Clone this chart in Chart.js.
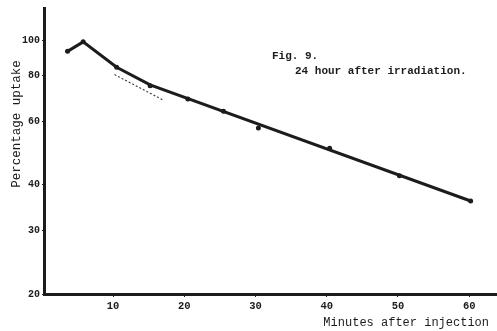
<!DOCTYPE html>
<html>
<head>
<meta charset="utf-8">
<script src="https://cdn.jsdelivr.net/npm/chart.js@4/dist/chart.umd.min.js"></script>
<style>
  html, body { margin: 0; padding: 0; background: #fff; }
  #wrap { width: 497px; height: 331px; }
</style>
</head>
<body>
<div id="wrap"><canvas id="uptake-chart" width="497" height="331"></canvas></div>
<script>
// minutes after injection / percentage uptake
const minutes = [3.6, 5.8, 10.5, 15.2, 20.5, 25.5, 30.4, 40.4, 50.2, 60.2];
const uptake = [93.4, 99.2, 84.4, 75.1, 69.0, 63.8, 57.4, 50.5, 42.4, 36.1];

// drawn curve: early points joined, then the straight fitted line
const curveMinutes = [3.6, 5.8, 10.5, 15.2, 60.2];
const curveUptake = [93.4, 99.2, 84.4, 75.5, 36.1];

// dotted extrapolation of the early slope
const dottedMinutes = [10.2, 17.0];
const dottedUptake = [80.6, 68.6];

const xTicks = [10, 20, 30, 40, 50, 60];
const yTicks = [20, 30, 40, 60, 80, 100];

const ink = '#1c1c1c';
const mono = "'Liberation Mono', 'DejaVu Sans Mono', monospace";

const toXY = (xs, ys) => xs.map((x, i) => ({ x: x, y: ys[i] }));

// typed captions of the figure and both axis labels
const figText = {
    id: 'figText',
    afterDraw(chart) {
        const ctx = chart.ctx;
        ctx.save();
        ctx.fillStyle = ink;
        ctx.textBaseline = 'alphabetic';
        ctx.textAlign = 'left';
        ctx.font = 'bold 11px ' + mono;
        ctx.fillText('Fig. 9.', 272, 59);
        ctx.fillText('24 hour after irradiation.', 295, 74);

        ctx.font = '12px ' + mono;
        ctx.textAlign = 'right';
        ctx.textBaseline = 'middle';
        ctx.fillText('Minutes after injection', 489, 323);

        ctx.translate(17, 124);
        ctx.rotate(-Math.PI / 2);
        ctx.textAlign = 'center';
        ctx.font = '12.5px ' + mono;
        ctx.fillText('Percentage uptake', 0, 0);
        ctx.restore();
    }
};

const ctx = document.getElementById('uptake-chart').getContext('2d');
new Chart(ctx, {
    type: 'scatter',
    data: {
        datasets: [{
            label: 'Observed',
            data: toXY(minutes, uptake),
            showLine: false,
            pointRadius: 2.5,
            pointBackgroundColor: ink,
            pointBorderWidth: 0
        }, {
            label: 'Curve',
            data: toXY(curveMinutes, curveUptake),
            showLine: true,
            borderColor: ink,
            borderWidth: 3,
            pointRadius: 0,
            tension: 0
        }, {
            label: 'Extrapolation',
            data: toXY(dottedMinutes, dottedUptake),
            showLine: true,
            borderColor: '#444',
            borderWidth: 1.2,
            borderDash: [2, 2],
            pointRadius: 0
        }]
    },
    options: {
        responsive: false,
        animation: false,
        layout: { autoPadding: false, padding: { top: 7, right: 0, left: 0, bottom: 0 } },
        plugins: {
            legend: { display: false },
            tooltip: { enabled: false }
        },
        scales: {
            x: {
                type: 'linear',
                min: 0.3,
                max: 63.9,
                afterBuildTicks: scale => { scale.ticks = xTicks.map(v => ({ value: v })); },
                afterFit: scale => { scale.height = 37; },
                border: { color: ink, width: 3 },
                grid: { drawOnChartArea: false, color: ink, tickLength: 3, tickWidth: 1 },
                ticks: { color: ink, font: { family: mono, size: 10.5, weight: 'bold' }, padding: 3, maxRotation: 0 }
            },
            y: {
                type: 'logarithmic',
                min: 20,
                max: 123,
                afterBuildTicks: scale => { scale.ticks = yTicks.map(v => ({ value: v })); },
                afterFit: scale => { scale.width = 44; },
                border: { color: ink, width: 3 },
                grid: { drawOnChartArea: false, color: ink, tickLength: 2, tickWidth: 1 },
                ticks: {
                    color: ink,
                    font: { family: mono, size: 10, weight: 'bold' },
                    padding: 2,
                    callback: v => String(v)
                }
            }
        }
    },
    plugins: [figText]
});
</script>
</body>
</html>
